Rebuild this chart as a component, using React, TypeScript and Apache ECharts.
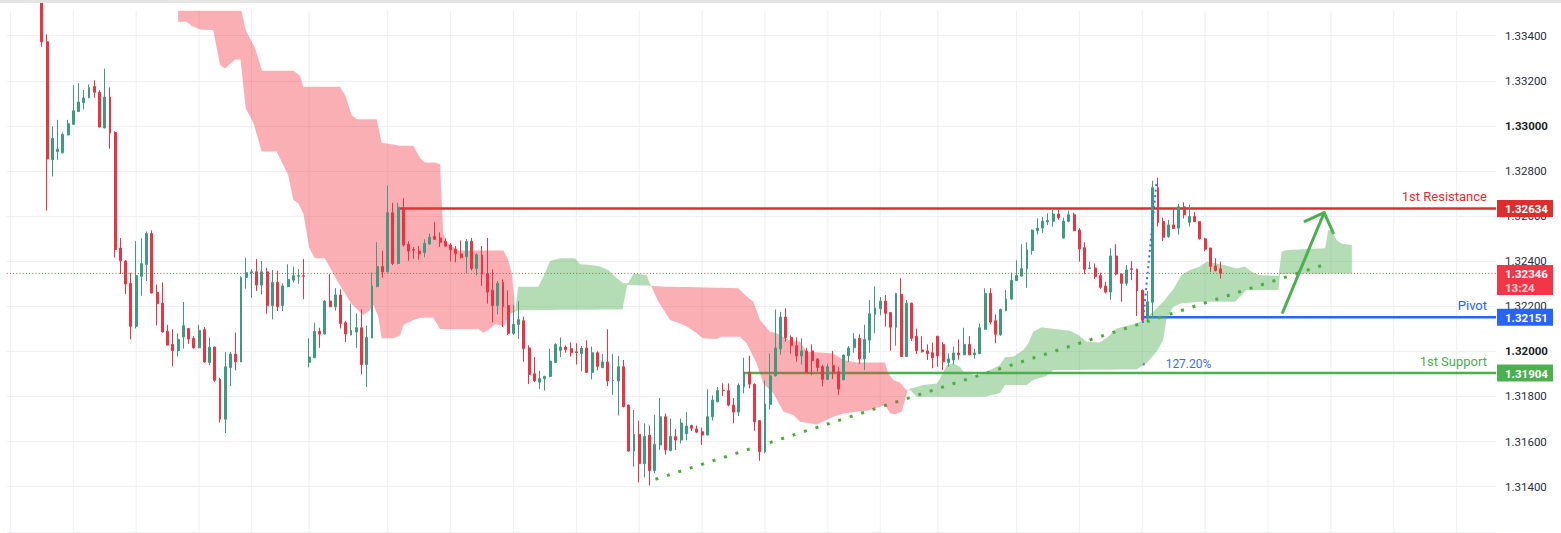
import React, { useEffect, useRef } from "react";
import * as echarts from "echarts";

// ---------- DATA ----------
const opens = [
1.33560,1.33373,1.32850,1.32886,1.32881,1.32960,1.33007,1.33064,1.33103,1.33125,
1.33175,1.33149,1.32991,1.33128,1.32971,1.32458,1.32401,1.32302,1.32111,1.32333,
1.32386,1.32523,1.32262,1.32214,1.32089,1.32031,1.32003,1.32064,1.32101,1.32058,
1.32016,1.32096,1.31951,1.32019,1.31877,1.31699,1.31929,1.31988,1.31954,1.32328,
1.32349,1.32353,1.32294,1.32353,1.32203,1.32306,1.32203,1.32287,1.32316,1.32333,
1.32336,1.31951,1.31972,1.32089,1.32077,1.32223,1.32198,1.32250,1.32127,1.32073,
1.32086,1.32105,1.31942,1.32060,1.32287,1.32376,1.32353,1.32615,1.32390,1.32633,
1.32475,1.32452,1.32445,1.32438,1.32476,1.32510,1.32503,1.32488,1.32472,1.32454,
1.32432,1.32420,1.32488,1.32368,1.32427,1.32345,1.32271,1.32203,1.32306,1.32203,
1.32080,1.32120,1.32136,1.32015,1.31901,1.31864,1.31879,1.31889,1.31951,1.32005,
1.32019,1.32012,1.31998,1.31990,1.32015,1.31907,1.31994,1.31929,1.31953,1.31870,
1.31869,1.31932,1.31762,1.31558,1.31632,1.31503,1.31628,1.31472,1.31585,1.31710,
1.31560,1.31622,1.31607,1.31635,1.31671,1.31656,1.31644,1.31629,1.31710,1.31777,
1.31828,1.31826,1.31762,1.31731,1.31843,1.31908,1.31854,1.31693,1.31555,1.31765,
1.31892,1.32011,1.32152,1.32062,1.32025,1.31980,1.32002,1.32002,1.31966,1.31932,
1.31876,1.31937,1.31910,1.31874,1.31981,1.32016,1.32058,1.31966,1.32050,1.32164,
1.32190,1.32223,1.32172,1.32107,1.32253,1.31977,1.32214,1.32067,1.32006,1.32002,
1.31994,1.32067,1.32031,1.31951,1.31962,1.31993,1.31985,1.32031,1.31985,1.31990,
1.32098,1.32257,1.32136,1.32073,1.32180,1.32232,1.32314,1.32334,1.32367,1.32447,
1.32535,1.32547,1.32574,1.32577,1.32609,1.32503,1.32577,1.32606,1.32538,1.32460,
1.32368,1.32370,1.32336,1.32290,1.32263,1.32423,1.32343,1.32302,1.32367,1.32364,
1.32271,1.32151,1.32218,1.32726,1.32576,1.32509,1.32561,1.32547,1.32641,1.32572,
1.32598,1.32576,1.32499,1.32458,1.32379,1.32366
];
const highs = [
1.33600,1.33406,1.32998,1.33027,1.32971,1.33027,1.33180,1.33189,1.33159,1.33184,
1.33202,1.33158,1.33254,1.33171,1.32976,1.32503,1.32405,1.32349,1.32489,1.32501,
1.32532,1.32537,1.32297,1.32306,1.32118,1.32098,1.32080,1.32219,1.32104,1.32068,
1.32118,1.32108,1.32062,1.32022,1.31883,1.31997,1.31997,1.32084,1.32333,1.32416,
1.32364,1.32410,1.32401,1.32371,1.32361,1.32358,1.32302,1.32386,1.32376,1.32365,
1.32410,1.32058,1.32127,1.32105,1.32228,1.32342,1.32280,1.32275,1.32136,1.32212,
1.32169,1.32186,1.32114,1.32350,1.32484,1.32447,1.32736,1.32659,1.32659,1.32679,
1.32488,1.32463,1.32467,1.32497,1.32523,1.32575,1.32528,1.32501,1.32481,1.32467,
1.32492,1.32498,1.32503,1.32435,1.32467,1.32503,1.32364,1.32312,1.32319,1.32271,
1.32206,1.32223,1.32154,1.32027,1.31975,1.31914,1.31892,1.32012,1.32036,1.32062,
1.32027,1.32040,1.32036,1.32024,1.32049,1.32021,1.32000,1.31988,1.32098,1.31988,
1.31980,1.31962,1.31764,1.31740,1.31693,1.31681,1.31671,1.31719,1.31793,1.31724,
1.31702,1.31656,1.31702,1.31731,1.31675,1.31671,1.31662,1.31832,1.31805,1.31842,
1.31858,1.31858,1.31793,1.31858,1.31972,1.31980,1.31858,1.31695,1.31870,1.31991,
1.32186,1.32176,1.32191,1.32071,1.32062,1.32058,1.32016,1.32031,1.31970,1.31941,
1.31945,1.32002,1.31932,1.31986,1.32024,1.32081,1.32076,1.32118,1.32228,1.32288,
1.32241,1.32250,1.32175,1.32260,1.32324,1.32228,1.32216,1.32101,1.32067,1.32031,
1.32039,1.32069,1.32042,1.31991,1.32021,1.32053,1.32105,1.32067,1.32012,1.32124,
1.32280,1.32280,1.32164,1.32190,1.32272,1.32349,1.32404,1.32475,1.32484,1.32541,
1.32590,1.32596,1.32612,1.32627,1.32627,1.32593,1.32624,1.32615,1.32547,1.32484,
1.32398,1.32390,1.32349,1.32309,1.32457,1.32475,1.32346,1.32383,1.32401,1.32367,
1.32275,1.32268,1.32757,1.32770,1.32593,1.32583,1.32630,1.32655,1.32661,1.32651,
1.32618,1.32578,1.32504,1.32460,1.32413,1.32398
];
const lows = [
1.33351,1.32624,1.32776,1.32850,1.32878,1.32958,1.33005,1.33062,1.33073,1.33123,
1.33125,1.32993,1.32989,1.32899,1.32416,1.32343,1.32254,1.32053,1.32102,1.32247,
1.32312,1.32257,1.32115,1.32084,1.32026,1.31934,1.31977,1.32012,1.32033,1.32012,
1.32014,1.31950,1.31938,1.31864,1.31685,1.31638,1.31846,1.31916,1.31952,1.32278,
1.32238,1.32268,1.32253,1.32167,1.32142,1.32179,1.32179,1.32284,1.32306,1.32300,
1.32232,1.31929,1.31970,1.32016,1.32075,1.32196,1.32181,1.32102,1.32042,1.32071,
1.32016,1.31898,1.31842,1.32058,1.32285,1.32327,1.32351,1.32383,1.32386,1.32464,
1.32402,1.32411,1.32407,1.32417,1.32474,1.32495,1.32463,1.32463,1.32398,1.32395,
1.32411,1.32346,1.32359,1.32337,1.32290,1.32212,1.32129,1.32164,1.32108,1.32073,
1.32073,1.32055,1.31954,1.31855,1.31864,1.31833,1.31826,1.31885,1.31948,1.31975,
1.31994,1.31977,1.31942,1.31911,1.31905,1.31876,1.31916,1.31925,1.31846,1.31807,
1.31716,1.31752,1.31555,1.31489,1.31419,1.31441,1.31405,1.31459,1.31564,1.31542,
1.31557,1.31563,1.31592,1.31606,1.31647,1.31637,1.31585,1.31627,1.31693,1.31774,
1.31802,1.31756,1.31681,1.31713,1.31814,1.31836,1.31648,1.31515,1.31548,1.31743,
1.31889,1.31985,1.32043,1.31990,1.31954,1.31942,1.31906,1.31894,1.31910,1.31845,
1.31873,1.31877,1.31807,1.31872,1.31954,1.31994,1.31944,1.31917,1.31994,1.32080,
1.32160,1.32110,1.32003,1.32025,1.31975,1.31975,1.32046,1.31988,1.31994,1.31962,
1.31925,1.31932,1.31917,1.31932,1.31942,1.31963,1.31983,1.31983,1.31968,1.31988,
1.32096,1.32120,1.32036,1.32070,1.32178,1.32230,1.32312,1.32332,1.32282,1.32429,
1.32519,1.32526,1.32560,1.32553,1.32584,1.32500,1.32572,1.32533,1.32398,1.32342,
1.32364,1.32321,1.32277,1.32257,1.32229,1.32337,1.32220,1.32291,1.32316,1.32157,
1.32126,1.32135,1.32151,1.32554,1.32489,1.32504,1.32543,1.32518,1.32590,1.32554,
1.32572,1.32496,1.32444,1.32352,1.32355,1.32323
];
const closes = [
1.33373,1.32853,1.32945,1.32897,1.32962,1.33010,1.33067,1.33106,1.33124,1.33171,
1.33149,1.32995,1.33128,1.32968,1.32452,1.32402,1.32299,1.32111,1.32336,1.32389,
1.32523,1.32259,1.32212,1.32086,1.32028,1.32003,1.32053,1.32114,1.32055,1.32016,
1.32093,1.31953,1.32019,1.31872,1.31699,1.31932,1.31988,1.31954,1.32327,1.32349,
1.32353,1.32294,1.32353,1.32203,1.32306,1.32198,1.32290,1.32319,1.32336,1.32336,
1.32333,1.31975,1.32089,1.32077,1.32223,1.32198,1.32250,1.32124,1.32077,1.32093,
1.32105,1.31942,1.32062,1.32290,1.32376,1.32353,1.32615,1.32390,1.32639,1.32472,
1.32445,1.32449,1.32432,1.32479,1.32506,1.32497,1.32484,1.32467,1.32450,1.32433,
1.32416,1.32488,1.32368,1.32429,1.32342,1.32263,1.32203,1.32302,1.32198,1.32080,
1.32120,1.32141,1.32012,1.31898,1.31869,1.31879,1.31889,1.31957,1.32031,1.32019,
1.32008,1.31994,1.31995,1.32015,1.31907,1.31994,1.31934,1.31953,1.31869,1.31873,
1.31932,1.31755,1.31558,1.31632,1.31503,1.31623,1.31472,1.31588,1.31710,1.31563,
1.31623,1.31607,1.31682,1.31669,1.31659,1.31642,1.31629,1.31710,1.31784,1.31826,
1.31826,1.31762,1.31731,1.31849,1.31908,1.31855,1.31688,1.31555,1.31767,1.31892,
1.32015,1.32152,1.32061,1.32025,1.31980,1.32002,1.31908,1.31959,1.31929,1.31876,
1.31932,1.31908,1.31833,1.31984,1.32015,1.32055,1.31966,1.32053,1.32167,1.32192,
1.32223,1.32169,1.32107,1.32257,1.31977,1.32214,1.32058,1.32003,1.31999,1.31990,
1.31972,1.31980,1.31954,1.31966,1.31993,1.31985,1.32031,1.31985,1.31993,1.32105,
1.32257,1.32130,1.32076,1.32186,1.32232,1.32315,1.32337,1.32367,1.32450,1.32538,
1.32547,1.32577,1.32580,1.32609,1.32593,1.32577,1.32606,1.32535,1.32454,1.32364,
1.32370,1.32331,1.32284,1.32263,1.32423,1.32343,1.32302,1.32361,1.32364,1.32268,
1.32138,1.32220,1.32726,1.32572,1.32506,1.32561,1.32545,1.32641,1.32606,1.32598,
1.32576,1.32499,1.32453,1.32377,1.32358,1.32346
];

// Ichimoku leading spans (bar index, price)
const senkouA = [
[26,1.33462],[27.6,1.33462],[28.6,1.33443],[30.18,1.33428],[32.7,1.33425],[34,1.3327],[34.95,1.33255],[36.9,1.33295],[37.9,1.33295],[38.9,1.33078],
[40.4,1.33011],[41.95,1.32886],[44.8,1.32886],[47,1.32782],[48,1.32671],[48.95,1.32656],[49.9,1.32612],[51.05,1.32457],[52.1,1.32413],[54,1.32413],
[56.3,1.32316],[59.1,1.3221],[61.35,1.32161],[62.6,1.32183],[63.3,1.32206],[64.2,1.32154],[64.85,1.32058],[67,1.32058],[68.35,1.3207],[69,1.32117],
[70.9,1.32139],[72.2,1.32149],[74.7,1.32149],[76,1.32099],[83.3,1.32099],[84.25,1.32083],[85.2,1.32095],[86.5,1.32121],[88.1,1.3211],[89.3,1.32166],
[90.3,1.32176],[90.9,1.32287],[94.75,1.32287],[95.7,1.32331],[97,1.32401],[98.9,1.32413],[101.75,1.32413],[102.7,1.32386],[104.9,1.32383],[106.5,1.32376],
[108.1,1.32361],[109.4,1.32331],[111,1.32302],[111.9,1.32302],[112.9,1.32346],[115.4,1.32339],[115.9,1.3231],[117.65,1.3222],[119.9,1.32139],[121.8,1.32124],
[123.1,1.3211],[124.97,1.3208],[126.2,1.32058],[128.8,1.32055],[129.7,1.32065],[133.2,1.32065],[134.5,1.32036],[136.4,1.31947],[137.7,1.31858],[139.6,1.31814],
[141.5,1.31733],[143.4,1.31718],[144.7,1.31688],[147.9,1.31676],[151,1.3171],[153,1.31725],[157.4,1.31737],[159.95,1.31755],[160.9,1.31762],[161.9,1.31725],
[162.8,1.31721],[164.1,1.31733],[165.2,1.31826],[165.7,1.31836],[166.6,1.3184],[168.2,1.31851],[170.8,1.31858],[171.4,1.3188],[172.7,1.3194],[173.9,1.31947],
[175.2,1.31932],[175.85,1.3191],[177.8,1.31895],[179.7,1.319],[181.6,1.31925],[182.85,1.3194],[183.8,1.31974],[185.4,1.31977],[187.3,1.32006],[188.25,1.32036],
[189.2,1.32087],[190.8,1.32107],[194.9,1.32095],[196.2,1.32092],[197.8,1.32073],[199.4,1.32043],[201.9,1.3204],[203.5,1.32065],[205.1,1.32102],[208.9,1.32124],
[210.2,1.32139],[212.1,1.32176],[214,1.3222],[215.9,1.32275],[217.5,1.32339],[219.1,1.32361],[221,1.32376],[222.3,1.32398],[224.2,1.3239],[226.1,1.3238],
[228,1.32368],[229.6,1.32376],[230.9,1.32353],[232.2,1.32339],[236,1.32334],[236.6,1.32442],[237.6,1.3245],[244.9,1.32457],[245.5,1.32538],[246.1,1.32538],
[247.1,1.32494],[248,1.32479],[249.8,1.32472]
];
const senkouB = [
[26,1.3362],[37.5,1.3362],[38.1,1.3351],[38.9,1.33425],[40.7,1.33344],[42,1.33245],[48,1.33245],[49.3,1.33221],[49.9,1.33174],[56.9,1.33174],
[58,1.3313],[59.1,1.33048],[60.1,1.33029],[63.9,1.33029],[64.85,1.32925],[68.35,1.32912],[70.9,1.32912],[72.2,1.32856],[73.1,1.32838],[75,1.32838],
[76,1.3283],[76.3,1.32671],[76.6,1.32523],[77.3,1.32486],[77.9,1.32472],[79.5,1.32447],[88.1,1.32447],[89,1.32405],[89.7,1.32346],[90,1.32272],
[90.3,1.32176],[91,1.32183],[110.8,1.32186],[111.7,1.32294],[115.9,1.32292],[116.1,1.3229],[119.2,1.32287],[125.6,1.32284],[132.9,1.3228],[134.5,1.32243],
[135.8,1.3222],[137.05,1.32139],[138.95,1.32087],[140.2,1.3208],[142.8,1.32047],[144.7,1.32043],[145.3,1.32021],[145.95,1.31999],[151,1.31991],[153,1.31962],
[155.5,1.31951],[160.9,1.31951],[161.5,1.31903],[162.5,1.31873],[163.8,1.31861],[164.7,1.31836],[165.2,1.31826],[165.7,1.31829],[167,1.31799],[180,1.31799],
[182.85,1.31815],[183.8,1.31851],[187.9,1.31851],[189.2,1.31873],[191.75,1.31891],[193,1.31917],[208.9,1.3192],[210.8,1.31947],[212.75,1.31999],[214,1.3205],
[214.6,1.32139],[215.9,1.32198],[217.5,1.32213],[221,1.3222],[227.7,1.3222],[229,1.3225],[229.9,1.32272],[236,1.32272],[236.3,1.32343],[250,1.32346]
];

const timeGridIdx = [-6, 6, 18, 30, 40, 51, 66, 78, 90, 102, 114, 126, 138, 150, 160, 171, 186, 198, 210, 222, 234, 246, 258, 270];

const levelNames = ["1st Resistance", "Pivot", "1st Support"];
const levelValues = [1.32634, 1.32151, 1.31904];
const levelStartIdx = [68, 210, 134];

const trendLine = [[117.1, 1.31433], [245.6, 1.32391]];
const fibLeg = [[210.1, 1.32126], [212.75, 1.32757]];
const fibLevel = [[210.1, 1.31943], [211.6, 1.31943]];
const fibLabel = "127.20%";
const arrowShaft = [[236.8, 1.32173], [244.7, 1.32615]];
const arrowHead = [[241.05, 1.32577], [244.7, 1.32615], [246.45, 1.32526]];
const countdown = "13:24";

// ---------- STYLE ----------
const X_MIN = -6.71, X_MAX = 277.51;
const Y_MIN = 1.312, Y_MAX = 1.3351086, Y_STEP = 0.002;
const UP = "#3f9b7e";
const DOWN = "#ec3344";
const GRID = "#eeeff2";
const RED_CLOUD = "rgba(242,54,69,0.40)";
const GREEN_CLOUD = "rgba(76,175,80,0.42)";
const LEVEL_COLORS = ["#df2d2d", "#2962ff", "#4caf50"];
const CUR_COLOR = "#f23645";
const TREND_COLOR = "#4cae34";
const FIB_COLOR = "#3d6ef5";
const ARROW_COLOR = "#4caf50";
const FONT = "Roboto, 'Noto Sans', sans-serif";

function valueAt(pts: number[][], x: number): number {
  if (x <= pts[0][0]) return pts[0][1];
  for (let k = 1; k < pts.length; k++) {
    if (x <= pts[k][0]) {
      const [x0, y0] = pts[k - 1];
      const [x1, y1] = pts[k];
      return x1 === x0 ? y1 : y0 + ((y1 - y0) * (x - x0)) / (x1 - x0);
    }
  }
  return pts[pts.length - 1][1];
}

function cloudRender(params: any, api: any) {
  const xs = Array.from(new Set([...senkouA, ...senkouB].map((p) => p[0]))).sort((a, b) => a - b);
  const seq: { x: number; a: number; b: number }[] = [];
  xs.forEach((x) => {
    const cur = { x, a: valueAt(senkouA, x), b: valueAt(senkouB, x) };
    if (seq.length) {
      const prev = seq[seq.length - 1];
      const d0 = prev.a - prev.b;
      const d1 = cur.a - cur.b;
      if (d0 * d1 < 0) {
        const t = d0 / (d0 - d1);
        const cy = prev.a + t * (cur.a - prev.a);
        seq.push({ x: prev.x + t * (cur.x - prev.x), a: cy, b: cy });
      }
    }
    seq.push(cur);
  });
  const runs: typeof seq[] = [];
  let run = [seq[0]];
  for (let k = 1; k < seq.length; k++) {
    const p = seq[k];
    run.push(p);
    if (Math.abs(p.a - p.b) < 1e-9 && k < seq.length - 1) {
      runs.push(run);
      run = [p];
    }
  }
  runs.push(run);
  const children = runs
    .filter((r) => r.length > 1)
    .map((r) => {
      const s = r.reduce((acc, p) => acc + (p.a - p.b), 0);
      const top = r.map((p) => api.coord([p.x, p.a]));
      const bot = r.slice().reverse().map((p) => api.coord([p.x, p.b]));
      return {
        type: "polygon",
        shape: { points: top.concat(bot) },
        style: { fill: s > 0 ? GREEN_CLOUD : RED_CLOUD },
      };
    });
  return { type: "group", children };
}

export default function App() {
  const ref = useRef<HTMLDivElement>(null);
  useEffect(() => {
    const chart = echarts.init(ref.current!, null, { renderer: "svg" });
    const candleData = opens.map((o, i) => [i, o, closes[i], lows[i], highs[i]]);
    const last = closes[closes.length - 1];

    const series: any[] = [
      {
        type: "custom",
        name: "timegrid",
        silent: true,
        z: 0,
        data: timeGridIdx.map((v) => [v, Y_MIN]),
        encode: { x: 0, y: 1 },
        renderItem: (params: any, api: any) => {
          const x = api.coord([api.value(0), Y_MIN])[0];
          const cs = params.coordSys;
          return {
            type: "line",
            shape: { x1: x, y1: cs.y, x2: x, y2: cs.y + cs.height },
            style: { stroke: GRID, lineWidth: 1 },
          };
        },
      },
      ...levelValues.map((v, k) => ({
        type: "line",
        silent: true,
        z: 1,
        symbol: "none",
        data: [[levelStartIdx[k], v], [X_MAX, v]],
        lineStyle: { color: LEVEL_COLORS[k], width: 2.5 },
      })),
      {
        type: "line",
        silent: true,
        z: 1,
        symbol: "none",
        data: trendLine,
        lineStyle: { color: TREND_COLOR, width: 3, type: [3, 9], cap: "butt" },
      },
      {
        type: "custom",
        name: "cloud",
        silent: true,
        z: 2,
        clip: true,
        data: [[100, 1.32]],
        encode: { x: 0, y: 1 },
        renderItem: cloudRender,
      },
      {
        type: "candlestick",
        z: 3,
        silent: true,
        data: candleData,
        encode: { x: 0, y: [1, 2, 3, 4] },
        barWidth: 2.4,
        clip: true,
        itemStyle: {
          color: UP,
          color0: DOWN,
          borderColor: UP,
          borderColor0: DOWN,
          borderWidth: 1,
        },
      },
      {
        type: "line",
        silent: true,
        z: 4,
        symbol: "none",
        data: [[X_MIN, last], [X_MAX, last]],
        lineStyle: { color: CUR_COLOR, width: 1, type: [1, 2.2] },
      },
      {
        type: "line",
        silent: true,
        z: 4,
        symbol: "none",
        data: fibLeg,
        lineStyle: { color: FIB_COLOR, width: 2, type: [2, 3.5] },
      },
      {
        type: "line",
        silent: true,
        z: 4,
        symbol: "none",
        data: fibLevel,
        lineStyle: { color: FIB_COLOR, width: 2, type: [2, 6] },
      },
      {
        type: "line",
        silent: true,
        z: 5,
        symbol: "none",
        data: arrowShaft,
        lineStyle: { color: ARROW_COLOR, width: 3, cap: "round" },
      },
      {
        type: "line",
        silent: true,
        z: 5,
        symbol: "none",
        data: arrowHead,
        lineStyle: { color: ARROW_COLOR, width: 3, cap: "round", join: "round" },
      },
    ];

    chart.setOption({
      animation: false,
      backgroundColor: "#ffffff",
      textStyle: { fontFamily: FONT },
      grid: { left: 6.7, right: 65, top: 10.7, bottom: 1.2 },
      xAxis: {
        type: "value",
        min: X_MIN,
        max: X_MAX,
        show: false,
        splitLine: { show: false },
      },
      yAxis: {
        type: "value",
        position: "right",
        min: Y_MIN,
        max: Y_MAX,
        interval: Y_STEP,
        axisLine: { show: false },
        axisTick: { show: false },
        splitLine: { show: true, showMaxLine: false, lineStyle: { color: GRID, width: 1 } },
        axisLabel: {
          margin: 9,
          showMinLabel: false,
          showMaxLabel: false,
          color: "#2a2e39",
          fontSize: 11.5,
          fontFamily: FONT,
          formatter: (v: number) => {
            const s = v.toFixed(5);
            const round = Math.abs(v * 100 - Math.round(v * 100)) < 1e-6;
            return round ? `{b|${s}}` : `{n|${s}}`;
          },
          rich: {
            b: { fontWeight: "bold", color: "#1c1f27", fontSize: 11.5, fontFamily: FONT },
            n: { color: "#2a2e39", fontSize: 11.5, fontFamily: FONT },
          },
        },
      },
      series,
    });

    const py = (v: number) => chart.convertToPixel({ yAxisIndex: 0 }, v) as number;
    const px = (v: number) => chart.convertToPixel({ xAxisIndex: 0 }, v) as number;
    const right = px(X_MAX);
    const tagX = right + 1;
    const tagW = 56;
    const els: any[] = [];

    els.push({
      type: "rect",
      shape: { x: 0, y: 0, width: 1561, height: 3 },
      style: { fill: "#e4e4e4" },
      z: 100,
    });

    levelValues.forEach((v, k) => {
      const y = py(v);
      els.push({
        type: "text",
        x: right - 9,
        y: y - 12,
        z: 100,
        style: { text: levelNames[k], fill: LEVEL_COLORS[k], font: `13px ${FONT}`, align: "right", verticalAlign: "middle" },
      });
      els.push({
        type: "rect",
        shape: { x: tagX, y: y - 8.5, width: tagW, height: 17 },
        style: { fill: LEVEL_COLORS[k] },
        z: 100,
      });
      els.push({
        type: "text",
        x: tagX + 8,
        y: y + 0.5,
        z: 101,
        style: { text: v.toFixed(5), fill: "#ffffff", font: `bold 11.5px ${FONT}`, verticalAlign: "middle" },
      });
    });

    const cy = py(last);
    els.push({
      type: "rect",
      shape: { x: tagX, y: cy - 8.4, width: tagW, height: 30 },
      style: { fill: CUR_COLOR },
      z: 100,
    });
    els.push({
      type: "text",
      x: tagX + 8,
      y: cy + 0.5,
      z: 101,
      style: { text: last.toFixed(5), fill: "#ffffff", font: `bold 11.5px ${FONT}`, verticalAlign: "middle" },
    });
    els.push({
      type: "text",
      x: tagX + 8,
      y: cy + 14.5,
      z: 101,
      style: { text: countdown, fill: "rgba(255,255,255,0.8)", font: `bold 11.5px ${FONT}`, verticalAlign: "middle" },
    });

    els.push({
      type: "text",
      x: px(fibLevel[1][0]) + 15,
      y: py(fibLevel[0][1]),
      z: 100,
      style: { text: fibLabel, fill: FIB_COLOR, font: `12px ${FONT}`, verticalAlign: "middle" },
    });

    chart.setOption({ graphic: els });
    return () => chart.dispose();
  }, []);
  return (
    <div
      ref={ref}
      style={{ position: "fixed", left: 0, top: 0, width: 1561, height: 533, background: "#ffffff" }}
    />
  );
}
